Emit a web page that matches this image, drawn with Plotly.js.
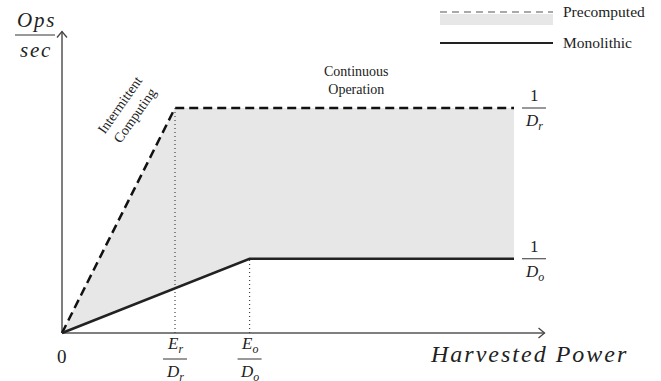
<!DOCTYPE html>
<html>
<head>
<meta charset="utf-8">
<script src="https://cdn.plot.ly/plotly-3.0.1.min.js"></script>
<style>html,body{margin:0;padding:0;background:#fff;}#chart{width:661px;height:381px;}</style>
</head>
<body>
<div id="chart"></div>
<script>
// ---- data (conceptual units: x = harvested power, y = ops/sec) ----
const precomputedX = [0, 1, 4];
const precomputedY = [0, 1, 1];
const monolithicX = [0, 1.66, 4];
const monolithicY = [0, 0.33, 0.33];
const guideX = [1, 1.66];          // E_r/D_r, E_o/D_o
const guideTop = [1, 0.33];
const xTickNums = ['<i>E</i><sub><i>r</i></sub>', '<i>E</i><sub><i>o</i></sub>'];
const xTickDens = ['<i>D</i><sub><i>r</i></sub>', '<i>D</i><sub><i>o</i></sub>'];
const yLevelVals = [1, 0.33];
const yLevelDens = ['<i>D</i><sub><i>r</i></sub>', '<i>D</i><sub><i>o</i></sub>'];
const seriesNames = ['Precomputed', 'Monolithic'];
const axisEndX = 4.27, axisEndY = 1.34;

// ---- geometry helpers ----
const W = 661, H = 381;
const FONT = "'Liberation Serif', 'Times New Roman', serif";
const xRange = [-62/113, (W-62)/113];
const yRange = [(333-H)/225, 333/225];
const px = v => (v - xRange[0]) / (xRange[1]-xRange[0]) * W;   // data -> pixel
const py = v => H - (v - yRange[0]) / (yRange[1]-yRange[0]) * H;
const P = x => x / W, Q = y => 1 - y / H;                        // pixel -> paper
const spaced = (s, sp) => s.split('').join(sp || '\u200A');

const traces = [
  {x: monolithicX, y: monolithicY, mode: 'lines', line: {width: 0}, hoverinfo: 'skip', showlegend: false},
  {x: precomputedX, y: precomputedY, mode: 'lines', line: {width: 0}, fill: 'tonexty', fillcolor: '#e7e7e7', hoverinfo: 'skip', showlegend: false}
];
guideX.forEach((gx, i) => traces.push({x: [gx, gx], y: [0, guideTop[i]], mode: 'lines',
  line: {color: '#444', width: 1.2, dash: '1px,3px'}, showlegend: false, hoverinfo: 'skip'}));
traces.push({x: precomputedX, y: precomputedY, mode: 'lines', name: seriesNames[0],
  line: {color: '#111', width: 2.5, dash: '9px,5px'}, showlegend: false});
traces.push({x: monolithicX, y: monolithicY, mode: 'lines', name: seriesNames[1],
  line: {color: '#222', width: 2.5}, showlegend: false});

const shapes = [];
const annotations = [];
// axes with open chevron arrows
shapes.push({type: 'line', xref: 'x', yref: 'y', x0: 0, y0: 0, x1: axisEndX, y1: 0, line: {color: '#555', width: 1.5}, layer: 'below'});
shapes.push({type: 'line', xref: 'x', yref: 'y', x0: 0, y0: 0, x1: 0, y1: axisEndY, line: {color: '#555', width: 1.5}, layer: 'below'});
const ax = px(axisEndX), ay = py(0), bx = px(0), by = py(axisEndY);
shapes.push({type: 'path', xref: 'paper', yref: 'paper',
  path: `M${P(ax-6)},${Q(ay-5)} L${P(ax)},${Q(ay)} L${P(ax-6)},${Q(ay+5)}`, line: {color: '#444', width: 1.3}});
shapes.push({type: 'path', xref: 'paper', yref: 'paper',
  path: `M${P(bx-5)},${Q(by+6)} L${P(bx)},${Q(by)} L${P(bx+5)},${Q(by+6)}`, line: {color: '#444', width: 1.3}});

function frac(cx, cy, num, den, halfW, size) {
  shapes.push({type: 'line', xref: 'paper', yref: 'paper', x0: P(cx-halfW), x1: P(cx+halfW), y0: Q(cy), y1: Q(cy), line: {color: '#333', width: 1}});
  annotations.push({xref: 'paper', yref: 'paper', x: P(cx), y: Q(cy-1), xanchor: 'center', yanchor: 'bottom', text: num, showarrow: false, font: {family: FONT, size: size, color: '#222'}});
  annotations.push({xref: 'paper', yref: 'paper', x: P(cx), y: Q(cy+1), xanchor: 'center', yanchor: 'top', text: den, showarrow: false, font: {family: FONT, size: size, color: '#222'}});
}
// x fraction labels
guideX.forEach((gx, i) => frac(px(gx), 359, xTickNums[i], xTickDens[i], 12, 17));
// y level labels on right
yLevelVals.forEach((v, i) => frac(534, py(v), '1', yLevelDens[i], 12, 17));
// Ops / sec
frac(35, 35, '<i>' + spaced('Ops') + '</i>', '<i>' + spaced('sec') + '</i>', 20, 21);

annotations.push({xref: 'paper', yref: 'paper', x: P(62), y: Q(356), xanchor: 'center', yanchor: 'middle', text: '0', showarrow: false, font: {family: FONT, size: 19, color: '#222'}});
annotations.push({xref: 'paper', yref: 'paper', x: P(528), y: Q(354), xanchor: 'center', yanchor: 'middle', text: '<i>' + spaced('Harvested Power') + '</i>', showarrow: false, font: {family: FONT, size: 24, color: '#222'}});
annotations.push({xref: 'paper', yref: 'paper', x: P(357), y: Q(80), xanchor: 'center', yanchor: 'middle', text: 'Continuous<br>Operation', showarrow: false, font: {family: FONT, size: 14, color: '#222'}});
annotations.push({xref: 'paper', yref: 'paper', x: P(127), y: Q(110), xanchor: 'center', yanchor: 'middle', text: 'Intermittent<br>Computing', textangle: -55, showarrow: false, font: {family: FONT, size: 14, color: '#222'}});

// custom legend
shapes.push({type: 'rect', xref: 'paper', yref: 'paper', x0: P(440), x1: P(553), y0: Q(14), y1: Q(25), fillcolor: '#e7e7e7', line: {width: 0}});
shapes.push({type: 'line', xref: 'paper', yref: 'paper', x0: P(440), x1: P(553), y0: Q(12), y1: Q(12), line: {color: '#555', width: 1.2, dash: '7px,5px'}});
shapes.push({type: 'line', xref: 'paper', yref: 'paper', x0: P(440), x1: P(553), y0: Q(43), y1: Q(43), line: {color: '#222', width: 2}});
annotations.push({xref: 'paper', yref: 'paper', x: P(561), y: Q(12), xanchor: 'left', yanchor: 'middle', text: seriesNames[0], showarrow: false, font: {family: FONT, size: 15.5, color: '#222'}});
annotations.push({xref: 'paper', yref: 'paper', x: P(561), y: Q(43), xanchor: 'left', yanchor: 'middle', text: seriesNames[1], showarrow: false, font: {family: FONT, size: 15.5, color: '#222'}});

const layout = {
  width: W, height: H,
  margin: {l: 0, r: 0, t: 0, b: 0},
  paper_bgcolor: '#fff', plot_bgcolor: '#fff',
  showlegend: false,
  font: {family: FONT},
  xaxis: {range: xRange, visible: false, fixedrange: true},
  yaxis: {range: yRange, visible: false, fixedrange: true},
  shapes: shapes, annotations: annotations
};
Plotly.newPlot('chart', traces, layout, {staticPlot: true, displayModeBar: false});
</script>
</body>
</html>
